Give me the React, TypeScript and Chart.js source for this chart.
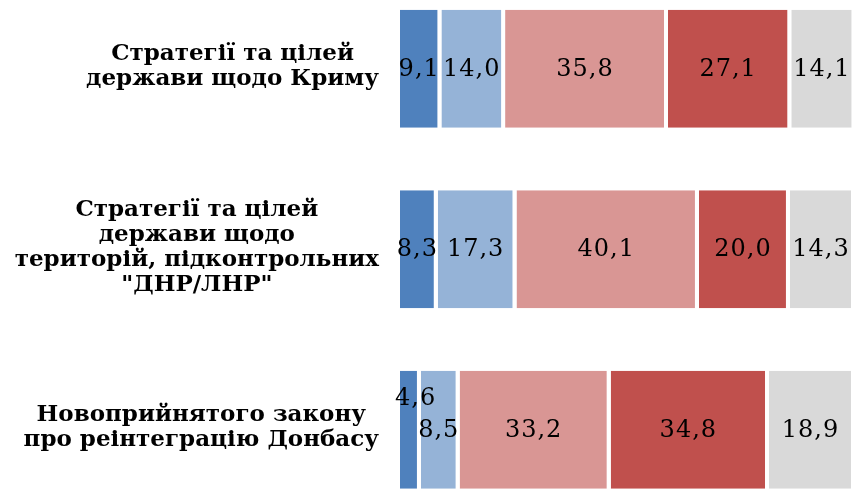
import React, { useEffect, useRef } from "react";
import { Chart, registerables } from "chart.js";

Chart.register(...registerables);

const categories: string[][] = [
  ["Стратегії та цілей", "держави щодо Криму"],
  ["Стратегії та цілей", "держави щодо", "територій, підконтрольних", "\"ДНР/ЛНР\""],
  ["Новоприйнятого закону", "про реінтеграцію Донбасу"],
];

const seriesNames = ["Серія 1", "Серія 2", "Серія 3", "Серія 4", "Серія 5"];
const series1 = [9.1, 8.3, 4.6];
const series2 = [14.0, 17.3, 8.5];
const series3 = [35.8, 40.1, 33.2];
const series4 = [27.1, 20.0, 34.8];
const series5 = [14.1, 14.3, 18.9];
const seriesValues = [series1, series2, series3, series4, series5];
const seriesColors = ["#4F81BD", "#95B3D7", "#D99694", "#C0504D", "#D9D9D9"];

const GAP = 4;
const LABEL_FONT = "bold 23px 'DejaVu Serif'";
const VALUE_FONT = "24px 'DejaVu Serif'";

const valueLabels = {
  id: "valueLabels",
  afterDatasetsDraw(chart: any) {
    const ctx = chart.ctx;
    const area = chart.chartArea;
    ctx.save();
    ctx.font = VALUE_FONT;
    (ctx as any).letterSpacing = "1px";
    ctx.fillStyle = "#000";
    ctx.textAlign = "center";
    ctx.textBaseline = "middle";
    chart.data.datasets.forEach((ds: any, di: number) => {
      const meta = chart.getDatasetMeta(di);
      meta.data.forEach((el: any, i: number) => {
        const v = ds.data[i];
        const text = v.toFixed(1).replace(".", ",");
        const { x, base, y } = el.getProps(["x", "base", "y"], true);
        const visW = Math.abs(x - base) - GAP;
        const w = ctx.measureText(text).width;
        let cx = (x + base - GAP) / 2 + 0.5;
        let cy = y + 1;
        if (w > visW * 2) {
          cy = y - 31;
          cx = Math.max(cx, area.left + w / 2 - 5);
        }
        ctx.fillText(text, cx, cy);
      });
    });
    ctx.restore();
  },
};

const categoryLabels = {
  id: "categoryLabels",
  afterDraw(chart: any) {
    const ctx = chart.ctx;
    const yScale = chart.scales.y;
    const right = chart.chartArea.left - 21;
    const lh = 25;
    ctx.save();
    ctx.font = LABEL_FONT;
    ctx.fillStyle = "#000";
    ctx.textAlign = "center";
    ctx.textBaseline = "middle";
    categories.forEach((lines, i) => {
      const cy = yScale.getPixelForValue(i);
      const maxW = Math.max(...lines.map((l) => ctx.measureText(l).width));
      const cx = right - maxW / 2;
      const y0 = cy - ((lines.length - 1) * lh) / 2 - 2;
      lines.forEach((l, j) => ctx.fillText(l, cx, y0 + j * lh));
    });
    ctx.restore();
  },
};

export default function App() {
  const ref = useRef<HTMLCanvasElement | null>(null);
  useEffect(() => {
    if (!ref.current) return;
    const chart = new Chart(ref.current, {
      type: "bar",
      data: {
        labels: categories.map((c) => c.join(" ")),
        datasets: seriesValues.map((vals, k) => ({
          label: seriesNames[k],
          data: vals,
          backgroundColor: seriesColors[k],
          borderColor: "#FFFFFF",
          borderWidth: { left: 0, right: GAP, top: 0, bottom: 0 },
          borderSkipped: false,
          categoryPercentage: 1,
          barPercentage: 0.654,
        })),
      },
      options: {
        indexAxis: "y",
        animation: false,
        responsive: false,
        maintainAspectRatio: false,
        layout: { padding: { left: 400, right: 25, top: 18.5, bottom: 40 } },
        plugins: { legend: { display: false }, tooltip: { enabled: false } },
        scales: {
          x: { stacked: true, min: 0, max: 100, display: false },
          y: { stacked: true, display: false },
        },
      },
      plugins: [valueLabels, categoryLabels],
    } as any);
    return () => chart.destroy();
  }, []);
  return (
    <div style={{ position: "fixed", left: 0, top: 0, width: 852, height: 489, overflow: "hidden", background: "#fff" }}>
      <canvas ref={ref} width={880} height={600} style={{ position: "absolute", left: 0, top: -40, width: 880, height: 600 }} />
    </div>
  );
}
